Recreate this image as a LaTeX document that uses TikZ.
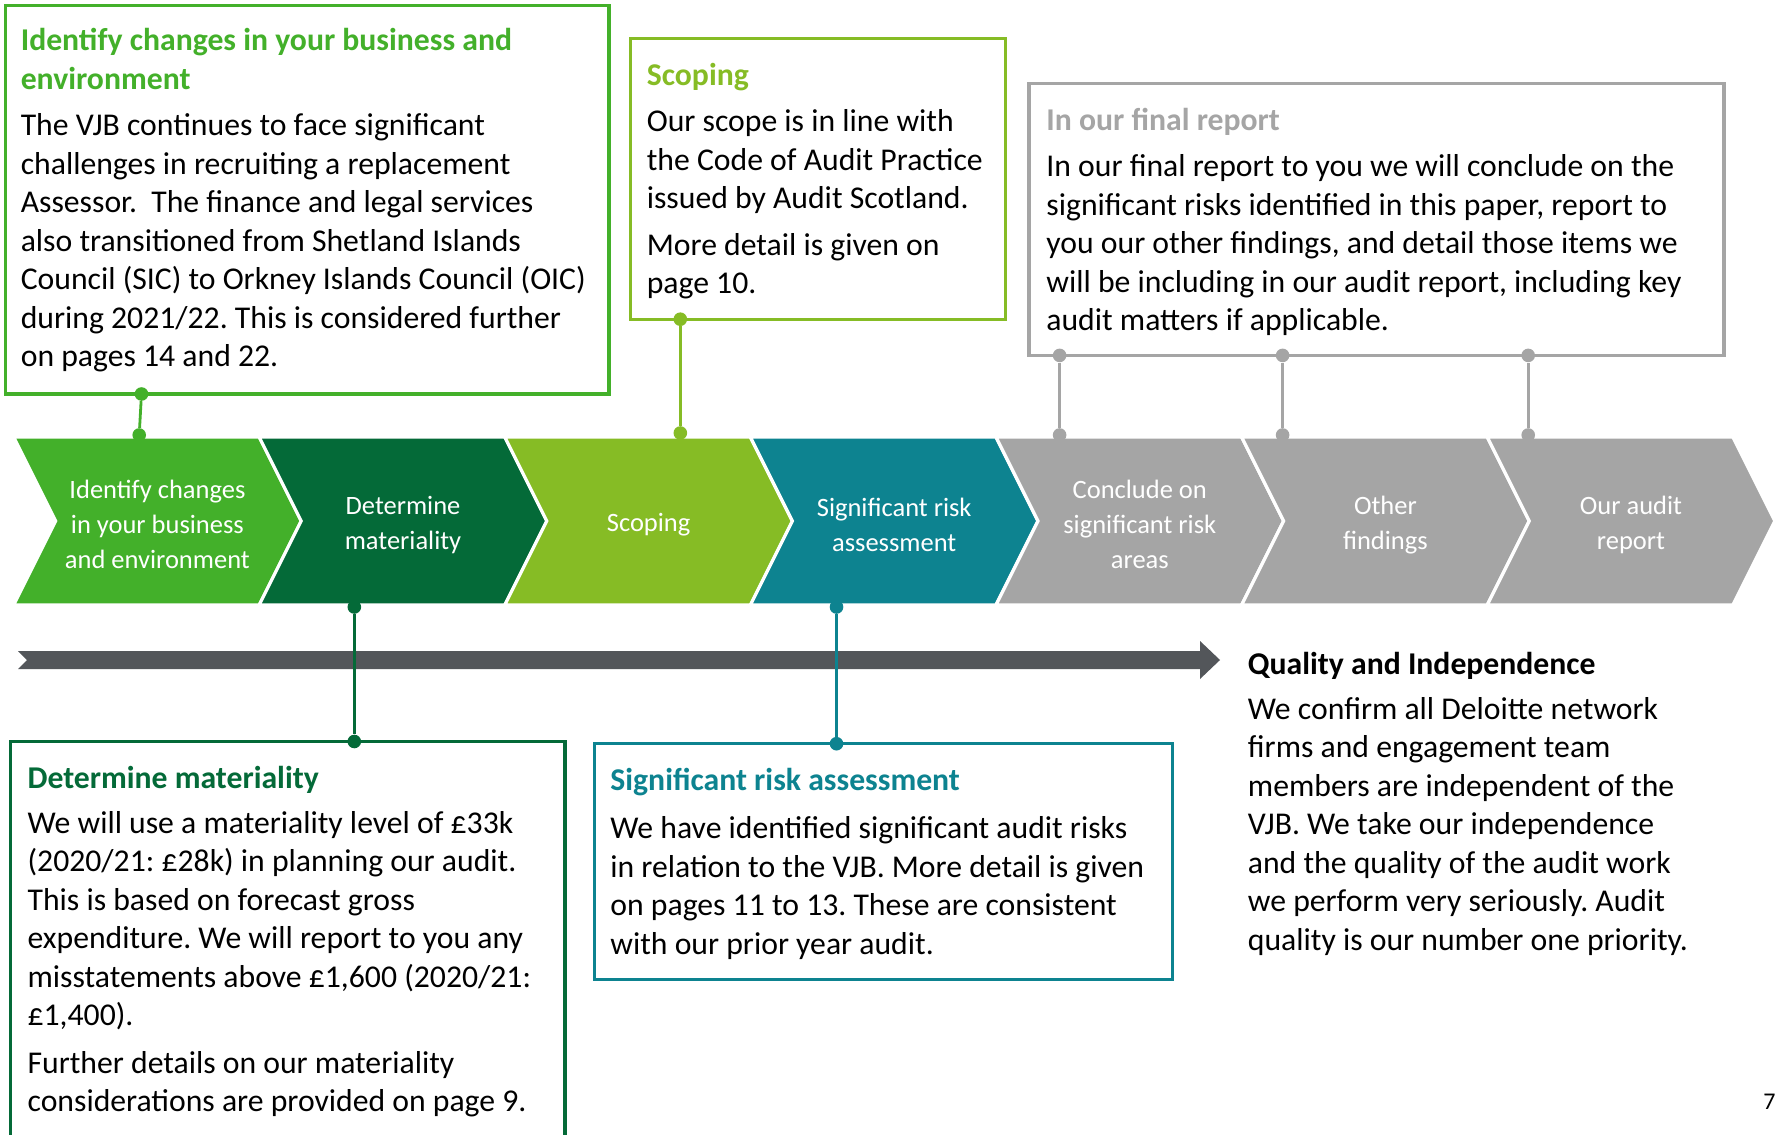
\documentclass[tikz,border=0pt]{standalone}
\usepackage{fontspec}
\setmainfont{Carlito}
\usetikzlibrary{fit}
\definecolor{cgreen}{HTML}{43B02A}
\definecolor{cdark}{HTML}{046A38}
\definecolor{clime}{HTML}{86BC25}
\definecolor{cteal}{HTML}{0D8390}
\definecolor{cgray}{HTML}{A5A5A5}
\definecolor{cbar}{HTML}{53565A}
\frenchspacing
\begin{document}
\begin{tikzpicture}[x=0.5pt,y=-0.5pt,
  txt/.style={anchor=base west, inner sep=0, align=left, font=\fontsize{15.85}{19.25}\selectfont},
  ttl/.style={txt, text=#1, font=\fontsize{15.85}{19.25}\selectfont\bfseries},
  infobox/.style={draw=#1, line width=1.6pt, inner sep=0pt},
  chevtxt/.style={text=white, align=center, inner sep=0, font=\fontsize{13.25}{17.5}\selectfont},
  chev/.style={fill=#1, draw=white, line width=1.6pt, line join=miter},
  dot/.style={circle, fill=#1, inner sep=0, minimum size=6.8pt},
  conn/.style={draw=#1, line width=1.4pt},
]
\useasboundingbox (0,0) rectangle (1775,1134);
\clip (0,0) rectangle (1775,1134);
\fill[white] (0,0) rectangle (1775,1134);

% boxes
\node[infobox=cgreen, fit={(5.7,5.7) (609,394)}] (box1) {};
\node[infobox=clime, fit={(630.5,38.5) (1005.2,319.2)}] (box2) {};
\node[infobox=cgray, fit={(1029,83.8) (1724,355.4)}] (box3) {};
\node[infobox=cdark, fit={(10.2,741.5) (565,1150)}] (box4) {};
\node[infobox=cteal, fit={(594.3,743.7) (1172.8,979.2)}] (box5) {};

% box texts (anchored at the baseline of the last line)
\node[ttl=cgreen] (t1) at (20.4,89.5) {Identify changes in your business and\\environment};
\node[txt] (b1) at (20.4,366.5) {The VJB continues to face significant\\challenges in recruiting a replacement\\Assessor.~ The finance and legal services\\also transitioned from Shetland Islands\\Council (SIC) to Orkney Islands Council (OIC)\\during 2021/22. This is considered further\\on pages 14 and 22.};

\node[ttl=clime] (t2) at (646.4,86) {Scoping};
\node[txt] (b2) at (646.4,293.5) {Our scope is in line with\\the Code of Audit Practice\\issued by Audit Scotland.\\[4pt]More detail is given on\\page 10.};

\node[ttl=cgray] (t3) at (1046,130.5) {In our final report};
\node[txt] (b3) at (1046,330.5) {In our final report to you we will conclude on the\\significant risks identified in this paper, report to\\you our other findings, and detail those items we\\will be including in our audit report, including key\\audit matters if applicable.};

\node[ttl=cdark] (t4) at (27.2,788) {Determine materiality};
\node[txt] (b4) at (27.2,1111.5) {We will use a materiality level of £33k\\(2020/21: £28k) in planning our audit.\\This is based on forecast gross\\expenditure. We will report to you any\\misstatements above £1,600 (2020/21:\\£1,400).\\[4.5pt]Further details on our materiality\\considerations are provided on page 9.};

\node[ttl=cteal] (t5) at (610,790.5) {Significant risk assessment};
\node[txt] (b5) at (610,954) {We have identified significant audit risks\\in relation to the VJB. More detail is given\\on pages 11 to 13. These are consistent\\with our prior year audit.};

\node[ttl=black] (t6) at (1247.5,674) {Quality and Independence};
\node[txt] (b6) at (1247.5,950) {We confirm all Deloitte network\\firms and engagement team\\members are independent of the\\VJB. We take our independence\\and the quality of the audit work\\we perform very seriously. Audit\\quality is our number one priority.};

\node[anchor=base west, inner sep=0, font=\fontsize{12}{14}\selectfont] (pg) at (1763,1109) {7};

% chevrons
\foreach \i/\c in {0/cgreen,1/cdark,2/clime,3/cteal,4/cgray,5/cgray,6/cgray} {
  \pgfmathsetmacro\L{13.6+245.6*\i}
  \path[chev=\c] (\L,437) -- ++(245.6,0) -- ++(42,84) -- ++(-42,84) -- ++(-245.6,0) -- ++(42,-84) -- cycle;
}
\node[chevtxt] (ch1) at (157.4,524) {Identify changes\\in your business\\and environment};
\node[chevtxt] (ch2) at (403.0,525) {Determine\\materiality};
\node[chevtxt] (ch3) at (648.6,525) {Scoping};
\node[chevtxt] (ch4) at (894.2,525) {Significant risk\\assessment};
\node[chevtxt] (ch5) at (1139.8,524) {Conclude on\\significant risk\\areas};
\node[chevtxt] (ch6) at (1385.4,525) {Other\\findings};
\node[chevtxt] (ch7) at (1631.0,525) {Our audit\\report};

% timeline arrow
\fill[cbar] (18,651) -- (1200,651) -- (1200,641) -- (1220,660) -- (1200,679) -- (1200,669) -- (18,669) -- (27,660) -- cycle;

% connectors
\node[dot=cgreen] (d1a) at (141.5,394) {};
\node[dot=cgreen] (d1b) at (139.2,435) {};
\node[dot=clime] (d2a) at (680.3,319.2) {};
\node[dot=clime] (d2b) at (680.3,433) {};
\node[dot=cgray] (d3a) at (1059.6,355.4) {};
\node[dot=cgray] (d3b) at (1059.6,435) {};
\node[dot=cgray] (d4a) at (1282.6,355.4) {};
\node[dot=cgray] (d4b) at (1282.6,435) {};
\node[dot=cgray] (d5a) at (1528.2,355.4) {};
\node[dot=cgray] (d5b) at (1528.2,435) {};
\node[dot=cdark] (d6a) at (354.3,607) {};
\node[dot=cdark] (d6b) at (354.3,741.5) {};
\node[dot=cteal] (d7a) at (836.5,607) {};
\node[dot=cteal] (d7b) at (836.5,743.7) {};
\draw[conn=cgreen] (d1a) -- (d1b);
\draw[conn=clime] (d2a) -- (d2b);
\draw[conn=cgray] (d3a) -- (d3b);
\draw[conn=cgray] (d4a) -- (d4b);
\draw[conn=cgray] (d5a) -- (d5b);
\draw[conn=cdark] (d6a) -- (d6b);
\draw[conn=cteal] (d7a) -- (d7b);
\end{tikzpicture}
\end{document}
